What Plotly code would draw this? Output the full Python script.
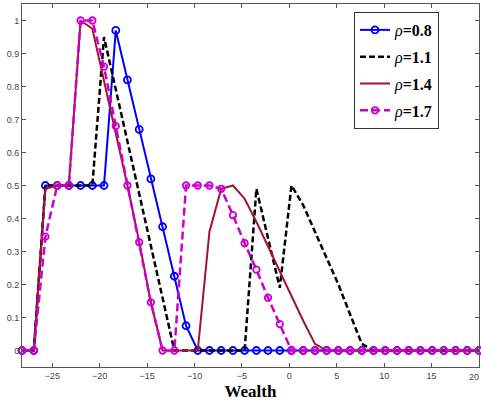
import plotly.graph_objects as go

wealth = [-28.20, -26.96, -25.73, -24.49, -23.26, -22.02, -20.78, -19.55, -18.31, -17.08,
          -15.84, -14.61, -13.37, -12.13, -10.90, -9.66, -8.43, -7.19, -5.95, -4.72,
          -3.48, -2.25, -1.01, 0.22, 1.46, 2.70, 3.93, 5.17, 6.40, 7.64,
          8.88, 10.11, 11.35, 12.58, 13.82, 15.06, 16.29, 17.53, 18.76, 20.00]

rho_08 = [0, 0, 0.5, 0.5, 0.5, 0.5, 0.5, 0.5, 0.97, 0.82, 0.67, 0.52, 0.375, 0.225, 0.075] + [0] * 25
rho_11 = [0, 0, 0.5, 0.5, 0.5, 0.5, 0.5, 0.95, 0.79, 0.63, 0.47, 0.31, 0.15,
          0, 0, 0, 0, 0, 0, 0, 0.49, 0.34, 0.19, 0.5, 0.44, 0.36, 0.28, 0.2, 0.11, 0.02] + [0] * 10
rho_14 = [0, 0, 0.49, 0.5, 0.5, 1.0, 0.975, 0.82, 0.66, 0.5, 0.33, 0.146, 0, 0, 0, 0,
          0.36, 0.49, 0.5, 0.46, 0.39, 0.315, 0.235, 0.165, 0.09, 0.02] + [0] * 14
rho_17 = [0, 0, 0.345, 0.5, 0.5, 1.0, 1.0, 0.86, 0.68, 0.5, 0.328, 0.146, 0, 0,
          0.5, 0.5, 0.5, 0.49, 0.41, 0.325, 0.245, 0.16, 0.08] + [0] * 17

names = ["<i>ρ</i><b>=0.8</b>", "<i>ρ</i><b>=1.1</b>", "<i>ρ</i><b>=1.4</b>", "<i>ρ</i><b>=1.7</b>"]

fig = go.Figure()
fig.add_trace(go.Scatter(x=wealth, y=rho_08, name=names[0], mode="lines+markers",
                         line=dict(color="#0000FF", width=2),
                         marker=dict(symbol="circle-open", size=7, line=dict(width=1.8, color="#0000FF")),
                         legendgroup="a", cliponaxis=False))
fig.add_trace(go.Scatter(x=wealth, y=rho_11, name=names[1], mode="lines",
                         line=dict(color="#000000", width=2.5, dash="6px,3px"),
                         legendgroup="b", cliponaxis=False))
fig.add_trace(go.Scatter(x=wealth, y=rho_14, name=names[2], mode="lines",
                         line=dict(color="#A2142F", width=2),
                         legendgroup="c", cliponaxis=False))
fig.add_trace(go.Scatter(x=wealth, y=rho_17, name=names[3], mode="lines+markers",
                         line=dict(color="#CC00CC", width=2.5, dash="8px,4px"),
                         marker=dict(symbol="circle-open", size=6.5, line=dict(width=1.8, color="#CC00CC")),
                         legendgroup="d", cliponaxis=False))

tickfont = dict(family="Liberation Sans, Arial", size=9, color="#444444")
axis_common = dict(showgrid=False, zeroline=False, showline=True, linecolor="#555555", linewidth=1,
                   ticks="inside", ticklen=4, tickcolor="#555555", mirror="ticks", tickfont=tickfont)

fig.update_xaxes(range=[-28.2, 20], tick0=-25, dtick=5, **axis_common,
                 title=dict(text="<b>Wealth</b>", font=dict(family="Liberation Serif, Times New Roman", size=17, color="#000000"),
                            standoff=5))
fig.update_yaxes(range=[-0.05, 1.05], tick0=0, dtick=0.1, **axis_common)

# edge tick label at x=20, nudged left so it stays inside the page
fig.add_annotation(x=20, y=0, xref="x", yref="paper", yanchor="top", yshift=-3, xshift=-5,
                   text="20", showarrow=False, font=tickfont)

fig.update_layout(
    width=481, height=402,
    margin=dict(l=22, r=2, t=4, b=35),
    plot_bgcolor="white", paper_bgcolor="white",
    legend=dict(x=0.7265, y=0.978, xanchor="left", yanchor="top",
                bordercolor="#333333", borderwidth=1, bgcolor="white",
                font=dict(family="Liberation Serif, Times New Roman", size=16, color="#000000"),
                tracegroupgap=3, traceorder="grouped"),
    showlegend=True,
)

fig.write_html("out.html")
